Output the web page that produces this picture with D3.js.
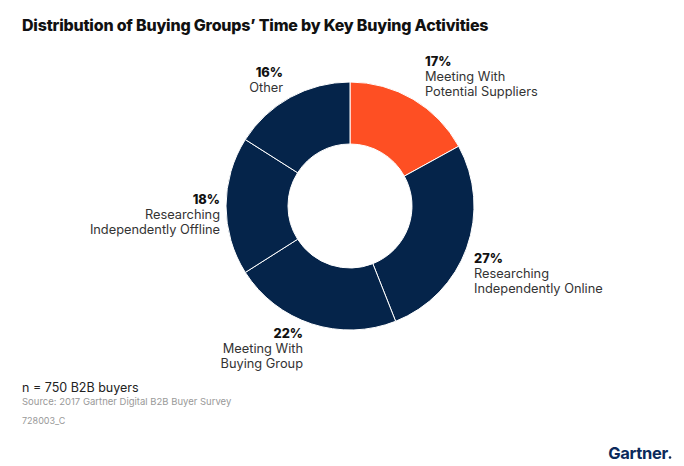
<!DOCTYPE html>
<html>
<head>
<meta charset="utf-8">
<script src="https://cdn.jsdelivr.net/npm/d3@7"></script>
<style>
  body { margin: 0; background: #fff; }
  svg { display: block; font-family: Inter, "Noto Sans", sans-serif; }
</style>
</head>
<body>
<svg id="chart" width="684" height="466"></svg>
<script>
// Donut data, clockwise from 12 o'clock
const categories = ['Meeting With Potential Suppliers', 'Researching Independently Online',
    'Meeting With Buying Group', 'Researching Independently Offline', 'Other'];
const values = [17, 27, 22, 18, 16];
const labelLines = [
    ['Meeting With', 'Potential Suppliers'],
    ['Researching', 'Independently Online'],
    ['Meeting With', 'Buying Group'],
    ['Researching', 'Independently Offline'],
    ['Other']
];

const svg = d3.select('#chart');
const cx = 350, cy = 206;
const outerR = 124, innerR = 62;

const colors = ['#fe4f23', '#05244a', '#05244a', '#05244a', '#05244a'];

// Title
svg.append('text')
    .attr('x', 22).attr('y', 31)
    .attr('font-size', '16px')
    .attr('font-weight', 800)
    .attr('fill', '#111')
    .attr('letter-spacing', '-0.2px')
    .text('Distribution of Buying Groups\u2019 Time by Key Buying Activities');

const pie = d3.pie().sort(null).value(d => d);
const arcs = pie(values);
const arc = d3.arc().innerRadius(innerR).outerRadius(outerR);

const g = svg.append('g').attr('transform', `translate(${cx},${cy})`);
g.selectAll('path')
    .data(arcs)
    .enter()
    .append('path')
    .attr('d', arc)
    .attr('fill', (d, i) => colors[i])
    .attr('stroke', '#fff')
    .attr('stroke-width', 1);

// Label placements (anchor point and alignment)
const labelPos = [
    { x: 425, y: 66, anchor: 'start' },
    { x: 474, y: 263, anchor: 'start' },
    { x: 303, y: 338, anchor: 'end' },
    { x: 220, y: 204, anchor: 'end' },
    { x: 283, y: 77, anchor: 'end' }
];

arcs.forEach((d, i) => {
    const p = labelPos[i];
    const t = svg.append('text')
        .attr('x', p.x).attr('y', p.y)
        .attr('text-anchor', p.anchor)
        .attr('font-size', '12.8px')
        .attr('fill', '#333');
    t.append('tspan')
        .attr('x', p.x)
        .attr('font-weight', 800)
        .attr('fill', '#111')
        .text(values[i] + '%');
    labelLines[i].forEach(line => {
        t.append('tspan')
            .attr('x', p.x)
            .attr('dy', 14.8)
            .text(line);
    });
});

// Footer
svg.append('text')
    .attr('x', 22).attr('y', 392)
    .attr('font-size', '12.5px')
    .attr('fill', '#222')
    .text('n = 750 B2B buyers');
svg.append('text')
    .attr('x', 22).attr('y', 405)
    .attr('font-size', '9.5px')
    .attr('fill', '#999')
    .text('Source: 2017 Gartner Digital B2B Buyer Survey');
svg.append('text')
    .attr('x', 22).attr('y', 424)
    .attr('font-size', '9px')
    .attr('fill', '#999')
    .text('728003_C');

// Logo
svg.append('text')
    .attr('x', 668).attr('y', 459)
    .attr('text-anchor', 'end')
    .attr('font-size', '16.5px')
    .attr('font-weight', 700)
    .attr('fill', '#0b2a5b')
    .attr('letter-spacing', '-0.3px')
    .text('Gartner');
svg.append('circle')
    .attr('cx', 670).attr('cy', 457.5)
    .attr('r', 1.3)
    .attr('fill', '#0b2a5b');
</script>
</body>
</html>
